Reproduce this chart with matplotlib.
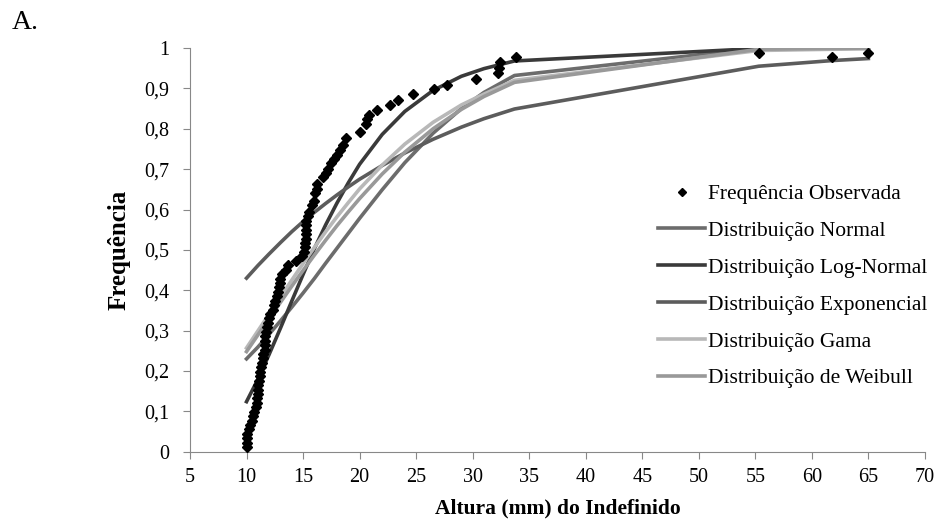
import matplotlib
matplotlib.use("Agg")
import matplotlib.pyplot as plt
from matplotlib.ticker import FuncFormatter

plt.rcParams['font.family'] = ['Liberation Serif', 'DejaVu Serif']

# observed cumulative frequency
obs_x = [10.0, 10.0, 10.0, 10.0, 10.2, 10.3, 10.5, 10.6, 10.7, 10.8,
         10.9, 10.9, 11.0, 11.0, 11.0, 11.1, 11.2, 11.2, 11.3, 11.4,
         11.5, 11.5, 11.6, 11.6, 11.6, 11.6, 11.7, 11.8, 11.9, 12.0,
         12.1, 12.3, 12.4, 12.5, 12.7, 12.8, 12.9, 13.0, 13.0, 13.1,
         13.5, 13.7, 14.4, 14.9, 15.1, 15.2, 15.2, 15.3, 15.3, 15.3,
         15.3, 15.3, 15.4, 15.5, 15.8, 16.0, 16.1, 16.2, 16.2, 16.8,
         17.0, 17.2, 17.5, 17.7, 18.0, 18.3, 18.5, 18.8, 20.0, 20.6,
         20.7, 20.8, 21.5, 22.7, 23.4, 24.7, 26.6, 27.7, 30.3, 32.2,
         32.3, 32.4, 33.8, 55.3, 61.8, 65.0]
obs_y = [0.012, 0.022, 0.033, 0.045, 0.056, 0.066, 0.077, 0.088, 0.099, 0.110,
         0.121, 0.132, 0.143, 0.154, 0.165, 0.176, 0.187, 0.198, 0.209, 0.220,
         0.231, 0.242, 0.253, 0.264, 0.275, 0.286, 0.297, 0.308, 0.319, 0.330,
         0.341, 0.352, 0.363, 0.374, 0.385, 0.396, 0.407, 0.418, 0.429, 0.440,
         0.451, 0.462, 0.473, 0.484, 0.495, 0.506, 0.517, 0.528, 0.539, 0.550,
         0.561, 0.572, 0.583, 0.594, 0.610, 0.621, 0.640, 0.652, 0.664, 0.681,
         0.691, 0.700, 0.714, 0.725, 0.735, 0.747, 0.760, 0.778, 0.792, 0.812,
         0.823, 0.834, 0.846, 0.858, 0.871, 0.885, 0.899, 0.909, 0.923, 0.937,
         0.950, 0.965, 0.978, 0.988, 0.977, 0.988]

# fitted distributions, read at these heights
fit_x = [10, 11, 12, 13, 14, 15, 16, 17, 18, 19, 20, 22, 24, 26.5, 29, 31,
         33.7, 55.3, 61.8, 65]
normal = [0.230, 0.259, 0.291, 0.324, 0.358, 0.393, 0.429, 0.467, 0.504, 0.541,
          0.578, 0.649, 0.716, 0.789, 0.850, 0.890, 0.932, 1.000, 1.000, 1.000]
lognormal = [0.124, 0.179, 0.241, 0.306, 0.373, 0.439, 0.503, 0.562, 0.616, 0.666,
             0.712, 0.786, 0.843, 0.895, 0.930, 0.949, 0.968, 0.999, 1.000, 1.000]
exponencial = [0.430, 0.461, 0.490, 0.518, 0.545, 0.570, 0.593, 0.615, 0.636, 0.656,
               0.675, 0.709, 0.740, 0.774, 0.804, 0.825, 0.849, 0.955, 0.969, 0.974]
gama = [0.257, 0.299, 0.341, 0.383, 0.425, 0.466, 0.506, 0.545, 0.582, 0.617,
        0.651, 0.710, 0.762, 0.816, 0.859, 0.886, 0.920, 0.994, 0.997, 0.998]
weibull = [0.248, 0.289, 0.329, 0.370, 0.410, 0.449, 0.487, 0.524, 0.560, 0.594,
           0.627, 0.688, 0.742, 0.800, 0.848, 0.880, 0.915, 0.997, 0.999, 1.000]

fig = plt.figure(figsize=(9.41, 5.28), dpi=100)
ax = fig.add_axes([0.2019, 0.1445, 0.7810, 0.7645])

ax.plot(obs_x, obs_y, linestyle='none', marker='D', markersize=5,
        color='black', label='Frequência Observada', zorder=5)
ax.plot(fit_x, normal, color='#6c6c6c', lw=2.6, label='Distribuição Normal')
ax.plot(fit_x, lognormal, color='#3a3a3a', lw=2.6, label='Distribuição Log-Normal')
ax.plot(fit_x, exponencial, color='#5c5c5c', lw=2.6, label='Distribuição Exponencial')
ax.plot(fit_x, gama, color='#b8b8b8', lw=2.6, label='Distribuição Gama')
ax.plot(fit_x, weibull, color='#999999', lw=2.6, label='Distribuição de Weibull')

ax.set_xlim(5, 70)
ax.set_ylim(0, 1)
ax.set_xticks(range(5, 71, 5))
ax.set_yticks([i / 10 for i in range(11)])
ax.yaxis.set_major_formatter(FuncFormatter(lambda v, p: f"{v:g}".replace('.', ',')))

for side in ['top', 'right']:
    ax.spines[side].set_visible(False)
for side in ['left', 'bottom']:
    ax.spines[side].set_color('#888888')
ax.tick_params(axis='both', direction='out', length=5, color='#888888',
               labelsize=14.5)
ax.tick_params(axis='y', pad=10)
ax.tick_params(axis='x', pad=7)

ax.set_xlabel('Altura (mm) do Indefinido', fontsize=15.5, fontweight='bold', labelpad=8)
ax.set_ylabel('Frequência', fontsize=18, fontweight='bold', labelpad=10)

leg = ax.legend(loc='center left', bbox_to_anchor=(0.637, 0.41), frameon=False,
                fontsize=15.5, handlelength=2.2, handletextpad=0.1,
                labelspacing=0.78, borderaxespad=0, borderpad=0, numpoints=1,
                markerscale=0.8)

fig.text(0.013, 0.958, 'A.', fontsize=20, va='center', ha='left')

fig.savefig('out.png', dpi=100)
